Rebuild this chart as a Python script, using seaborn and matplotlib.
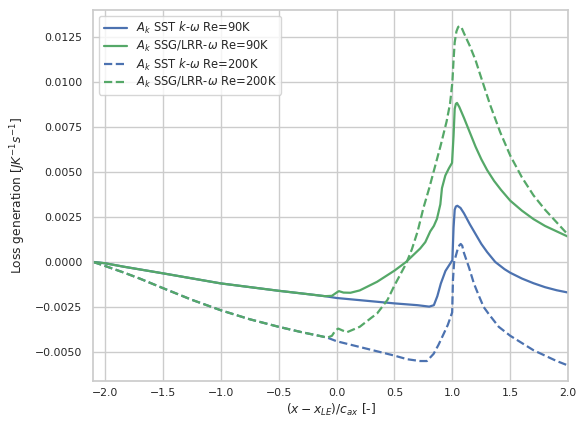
import matplotlib
matplotlib.use("Agg")
import matplotlib.pyplot as plt
import seaborn as sns

# Loss generation along the blade passage, two turbulence models at two Reynolds numbers
x_sst_90k = [-2.1, -2.0, -1.84, -1.5, -1.0, -0.5, -0.23, -0.1, 0.0, 0.25, 0.5, 0.7, 0.8,
             0.84, 0.87, 0.9, 0.94, 0.97, 1.0, 1.01, 1.02, 1.03, 1.043, 1.07, 1.1, 1.15,
             1.2, 1.25, 1.3, 1.37, 1.45, 1.5, 1.6, 1.7, 1.8, 1.9, 2.0]
y_sst_90k = [0.0, -0.00007, -0.00026, -0.00063, -0.00119, -0.0016, -0.0018, -0.0019, -0.002,
             -0.00215, -0.0023, -0.0024, -0.00248, -0.0024, -0.0019, -0.0012, -0.0005, -0.0002,
             0.0001, 0.0019, 0.0029, 0.00308, 0.00312, 0.0030, 0.0027, 0.0021, 0.00155,
             0.0010, 0.00055, 0.0, -0.0004, -0.0006, -0.00092, -0.00118, -0.0014, -0.00157,
             -0.0017]

x_ssg_90k = [-2.1, -2.0, -1.84, -1.5, -1.0, -0.5, -0.23, -0.1, -0.04, 0.0, 0.02, 0.06, 0.12,
             0.2, 0.35, 0.5, 0.6, 0.722, 0.766, 0.809, 0.84, 0.867, 0.896, 0.91, 0.939, 0.97,
             0.997, 1.01, 1.02, 1.03, 1.04, 1.06, 1.1, 1.15, 1.2, 1.25, 1.3, 1.36, 1.42, 1.5,
             1.6, 1.7, 1.8, 1.9, 2.0]
y_ssg_90k = [0.0, -0.00007, -0.00026, -0.00063, -0.00119, -0.0016, -0.0018, -0.0019, -0.00188,
             -0.0017, -0.00162, -0.0017, -0.00171, -0.00158, -0.0011, -0.00048, 0.0, 0.00075,
             0.0011, 0.0017, 0.0020, 0.0024, 0.0032, 0.0041, 0.0048, 0.0052, 0.0055, 0.0070,
             0.0085, 0.00878, 0.00883, 0.0086, 0.0080, 0.0072, 0.0064, 0.0057, 0.0051, 0.0045,
             0.0040, 0.0034, 0.00285, 0.00238, 0.0020, 0.0017, 0.0014]

x_sst_200k = [-2.1, -2.0, -1.84, -1.7, -1.5, -1.25, -1.0, -0.75, -0.5, -0.3, -0.15, -0.08,
              0.0, 0.25, 0.5, 0.61, 0.72, 0.78, 0.838, 0.88, 0.924, 0.96, 0.982, 0.998, 1.005,
              1.015, 1.045, 1.06, 1.072, 1.085, 1.1, 1.143, 1.186, 1.23, 1.27, 1.315, 1.4, 1.5,
              1.6, 1.7, 1.8, 1.9, 2.0]
y_sst_200k = [0.0, -0.00022, -0.00058, -0.00092, -0.00145, -0.0021, -0.00268, -0.00318, -0.0036,
              -0.0039, -0.0041, -0.0042, -0.0044, -0.0048, -0.0052, -0.0054, -0.0055, -0.0055,
              -0.0051, -0.0046, -0.0040, -0.0035, -0.0031, -0.0028, -0.0010, 0.0, 0.0007,
              0.00092, 0.0010, 0.0009, 0.0005, -0.0003, -0.0012, -0.0019, -0.0025, -0.0029,
              -0.0036, -0.0041, -0.0045, -0.0049, -0.0052, -0.0055, -0.00575]

x_ssg_200k = [-2.1, -2.0, -1.84, -1.7, -1.5, -1.25, -1.0, -0.75, -0.5, -0.3, -0.15, -0.08,
              -0.04, -0.01, 0.015, 0.05, 0.09, 0.2, 0.3, 0.35, 0.44, 0.5, 0.55, 0.6, 0.65, 0.7,
              0.75, 0.8, 0.85, 0.9, 0.95, 0.98, 1.0, 1.01, 1.02, 1.035, 1.05, 1.066, 1.08,
              1.1, 1.15, 1.2, 1.24, 1.327, 1.413, 1.5, 1.6, 1.7, 1.8, 1.9, 2.0]
y_ssg_200k = [0.0, -0.00022, -0.00058, -0.00092, -0.00145, -0.0021, -0.00268, -0.00318, -0.0036,
              -0.0039, -0.0041, -0.0042, -0.0041, -0.0038, -0.0037, -0.0038, -0.0039, -0.0036,
              -0.0031, -0.00286, -0.0021, -0.0013, -0.0007, -0.0001, 0.0007, 0.0017, 0.0030,
              0.0041, 0.0053, 0.0065, 0.0078, 0.0088, 0.0100, 0.0112, 0.0122, 0.0128, 0.01305,
              0.0131, 0.0130, 0.0127, 0.0120, 0.0112, 0.0104, 0.0087, 0.0072, 0.0059, 0.0047,
              0.0037, 0.0029, 0.0022, 0.0015]

labels = [r"$A_k$ SST $k$-$\omega$ Re=90K",
          r"$A_k$ SSG/LRR-$\omega$ Re=90K",
          r"$A_k$ SST $k$-$\omega$ Re=200K",
          r"$A_k$ SSG/LRR-$\omega$ Re=200K"]

sns.set_theme(style="whitegrid")
plt.rcParams.update({
    "font.size": 8.8, "xtick.labelsize": 7.8, "ytick.labelsize": 7.8,
    "axes.labelsize": 8.8, "legend.fontsize": 8.3,
})
palette = sns.color_palette("deep")
blue, green = palette[0], palette[2]

fig = plt.figure(figsize=(5.87, 4.26), dpi=100)
ax = fig.add_axes([0.159, 0.106, 0.809, 0.871])

series = [
    (x_sst_90k, y_sst_90k, blue, "-"),
    (x_ssg_90k, y_ssg_90k, green, "-"),
    (x_sst_200k, y_sst_200k, blue, "--"),
    (x_ssg_200k, y_ssg_200k, green, "--"),
]
for (xs, ys, col, ls), lab in zip(series, labels):
    sns.lineplot(x=xs, y=ys, ax=ax, color=col, linestyle=ls, linewidth=1.6,
                 estimator=None, label=lab)

ax.set_xlim(-2.1, 2.0)
ax.set_ylim(-0.0066, 0.0140)
ax.set_xticks([-2.0, -1.5, -1.0, -0.5, 0.0, 0.5, 1.0, 1.5, 2.0])
ax.set_yticks([-0.005, -0.0025, 0.0, 0.0025, 0.005, 0.0075, 0.01, 0.0125])
ax.set_yticklabels([f"{v:.4f}".replace("-", "\u2212") for v in ax.get_yticks()])
ax.set_xticklabels([f"{v:.1f}".replace("-", "\u2212") for v in ax.get_xticks()])
ax.tick_params(axis="both", length=0)
ax.tick_params(axis="x", pad=5)
ax.tick_params(axis="y", pad=8)
ax.set_xlabel(r"$(x-x_{LE})/c_{ax}$ [-]", labelpad=3)
ax.set_ylabel(r"Loss generation [$JK^{-1}s^{-1}$]", labelpad=5)
ax.legend(loc="upper left", labelspacing=0.22)

fig.savefig("out.png", dpi=100)
